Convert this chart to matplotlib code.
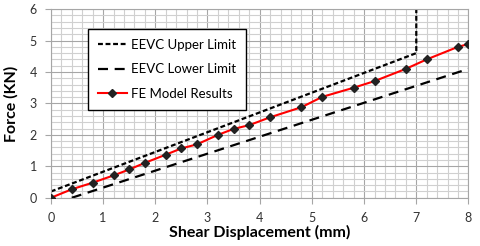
import matplotlib
matplotlib.use("Agg")
import matplotlib.pyplot as plt
from matplotlib.ticker import MultipleLocator

# FE model results
disp = [0.0, 0.4, 0.8, 1.2, 1.5, 1.8, 2.2, 2.5, 2.8, 3.2, 3.5, 3.8, 4.2, 4.8,
        5.2, 5.8, 6.2, 6.8, 7.2, 7.8, 8.0]
force = [0.0, 0.27, 0.48, 0.71, 0.90, 1.11, 1.37, 1.57, 1.70, 2.00, 2.19, 2.31,
         2.56, 2.88, 3.21, 3.50, 3.71, 4.10, 4.40, 4.80, 4.89]

# EEVC corridor
upper_x = [0.0, 7.0, 7.0]
upper_y = [0.2, 4.6, 6.0]
lower_x = [0.4, 8.0]
lower_y = [0.0, 4.1]

plt.rcParams['font.family'] = ['Lato', 'DejaVu Sans']

fig = plt.figure(figsize=(4.8, 2.46), dpi=100)
ax = fig.add_axes([0.106, 0.196, 0.870, 0.767])

ax.plot(upper_x, upper_y, color="black", linestyle=(0, (2.2, 1.2)), linewidth=1.6,
        label="EEVC Upper Limit")
ax.plot(lower_x, lower_y, color="black", linestyle=(0, (4.5, 3)), linewidth=1.6,
        label="EEVC Lower Limit")
ax.plot(disp, force, color="red", linewidth=1.5, marker="D", markersize=4.5,
        markerfacecolor="#222222", markeredgecolor="#222222",
        label="FE Model Results", zorder=3)

ax.set_xlim(0, 8)
ax.set_ylim(0, 6)
ax.xaxis.set_major_locator(MultipleLocator(1))
ax.yaxis.set_major_locator(MultipleLocator(1))
ax.xaxis.set_minor_locator(MultipleLocator(0.2))
ax.yaxis.set_minor_locator(MultipleLocator(0.2))
ax.grid(which="major", color="#a6a6a6", linewidth=0.8)
ax.grid(which="minor", color="#d0d0d0", linewidth=0.8)
ax.set_axisbelow(True)
for s in ax.spines.values():
    s.set_color("#a6a6a6")
ax.tick_params(which="major", length=4, color="#a6a6a6", labelsize=9,
               labelcolor="#333333", pad=6)
ax.tick_params(which="minor", length=0)

ax.set_xlabel("Shear Displacement (mm)", fontsize=11.5, fontweight="bold", labelpad=1)
ax.set_ylabel("Force (KN)", fontsize=11.5, fontweight="bold", labelpad=8)

leg = ax.legend(loc="upper left", bbox_to_anchor=(0.089, 0.895), fontsize=9.5,
                frameon=True, fancybox=False, edgecolor="black", framealpha=1,
                handlelength=2.2, handletextpad=0.3, labelspacing=0.95,
                borderpad=0.75, borderaxespad=0)
leg.get_frame().set_linewidth(1.0)

fig.savefig("out.png", dpi=100)
